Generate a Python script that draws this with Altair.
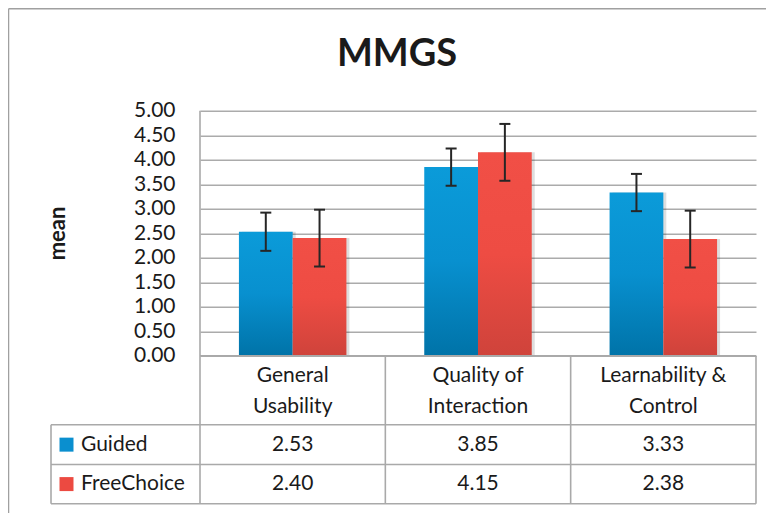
import altair as alt
import pandas as pd

# ---------------- data ----------------
categories = ["General\nUsability", "Quality of\nInteraction", "Learnability &\nControl"]
series_names = ["Guided", "FreeChoice"]
guided_means = [2.53, 3.85, 3.33]
freechoice_means = [2.40, 4.15, 2.38]
guided_err = [0.39, 0.38, 0.38]
freechoice_err = [0.58, 0.58, 0.58]
y_ticks = [0.0, 0.5, 1.0, 1.5, 2.0, 2.5, 3.0, 3.5, 4.0, 4.5, 5.0]
chart_title = "MMGS"
y_title = "mean"

# ---------------- layout (in scale units) ----------------
BAR_W = 0.29
HEADER_BOTTOM = -1.41
ROW_SPLIT = -2.22
TABLE_BOTTOM = -3.02
LABEL_LEFT = -0.804
PLOT_W = 556
PLOT_H = 393
FONT = "Lato"
FS = 21
TXT = "#1a1a1a"
LINE = "#a9a9a9"

row_y = {"Guided": (HEADER_BOTTOM + ROW_SPLIT) / 2, "FreeChoice": (ROW_SPLIT + TABLE_BOTTOM) / 2}

rows = []
for s, means, errs in [("Guided", guided_means, guided_err),
                       ("FreeChoice", freechoice_means, freechoice_err)]:
    for i, (c, m, e) in enumerate(zip(categories, means, errs)):
        left = i + 0.5 - BAR_W if s == "Guided" else i + 0.5
        rows.append(dict(series=s, category=c, mean=m, lo=m - e, hi=m + e,
                         x0=left, x1=left + BAR_W, xc=left + BAR_W / 2,
                         col=i + 0.5, row_y=row_y[s]))
bars = pd.DataFrame(rows)
cats = pd.DataFrame({"category": categories, "col": [i + 0.5 for i in range(len(categories))],
                     "yc": [HEADER_BOTTOM / 2] * len(categories)})
legend_df = pd.DataFrame({"series": series_names, "row_y": [row_y[s] for s in series_names],
                          "xl": [LABEL_LEFT] * len(series_names)})
title_df = pd.DataFrame({"t": [chart_title]})
hlines = pd.DataFrame({"y": [0, HEADER_BOTTOM, ROW_SPLIT, TABLE_BOTTOM],
                       "xa": [0, LABEL_LEFT, LABEL_LEFT, LABEL_LEFT],
                       "xb": [3, 3, 3, 3]})
vlines = pd.DataFrame({"x": [0, LABEL_LEFT, 1, 2, 3],
                       "ya": [5, HEADER_BOTTOM, 0, 0, 0],
                       "yb": [TABLE_BOTTOM] * 5})

xs = alt.Scale(domain=[0, 3], nice=False, zero=False)
ys = alt.Scale(domain=[TABLE_BOTTOM, 5], nice=False, zero=False)

yaxis = alt.Axis(values=y_ticks, format=".2f", grid=True, gridColor="#ababab", gridWidth=1.4,
                 domain=False, ticks=False, tickSize=0, labelPadding=25,
                 labelFont=FONT, labelFontSize=FS, labelColor=TXT,
                 title=y_title, titleFont=FONT, titleFontSize=22, titleFontWeight="bold",
                 titleColor=TXT, titleX=-143, titleY=122.3, titleAngle=270,
                 titleAlign="center", titleBaseline="middle")


def X(f):
    return alt.X(f, scale=xs, axis=None)


def Y(f):
    return alt.Y(f, scale=ys, axis=yaxis)


def grad(c0, c1, c2):
    return alt.Gradient(gradient="linear",
                        stops=[alt.GradientStop(color=c0, offset=0),
                               alt.GradientStop(color=c1, offset=0.5),
                               alt.GradientStop(color=c2, offset=1)],
                        x1=0, x2=0, y1=0, y2=1)


blue = grad("#0b9bd9", "#0890cf", "#0073a8")
red = grad("#f14f46", "#ee4c43", "#cf433b")

base = alt.Chart(bars)

frame_left = alt.Chart(title_df).mark_rule(color="#a0a0a0", strokeWidth=1.5).encode(
    x=alt.value(-191.5), y=alt.value(-102), y2=alt.value(PLOT_H + 20))
frame_top = alt.Chart(title_df).mark_rule(color="#a0a0a0", strokeWidth=1.5).encode(
    x=alt.value(-191.5), x2=alt.value(PLOT_W + 12), y=alt.value(-102))
title = alt.Chart(title_df).mark_text(font=FONT, fontSize=38, fontWeight="bold", color=TXT,
                                      baseline="middle", align="center").encode(
    x=alt.value(197), y=alt.value(-56), text="t:N")

shadow = base.mark_bar(color="#000000", opacity=0.13, xOffset=3, x2Offset=3).encode(
    x=X("x0:Q"), x2="x1:Q", y=Y("mean:Q"), y2=alt.datum(0))

bars_g = base.transform_filter(alt.datum.series == "Guided").mark_bar(color=blue).encode(
    x=X("x0:Q"), x2="x1:Q", y=Y("mean:Q"), y2=alt.datum(0))
bars_f = base.transform_filter(alt.datum.series == "FreeChoice").mark_bar(color=red).encode(
    x=X("x0:Q"), x2="x1:Q", y=Y("mean:Q"), y2=alt.datum(0))

h_rules = alt.Chart(hlines).mark_rule(color=LINE, strokeWidth=1.6).encode(
    x=X("xa:Q"), x2="xb:Q", y=Y("y:Q"))
v_rules = alt.Chart(vlines).mark_rule(color=LINE, strokeWidth=1.6).encode(
    x=X("x:Q"), y=Y("ya:Q"), y2="yb:Q")

err = base.mark_rule(color="#262626", strokeWidth=2).encode(
    x=X("xc:Q"), y=Y("lo:Q"), y2="hi:Q")
caps = base.transform_fold(["lo", "hi"], as_=["end", "val"]).mark_tick(
    orient="horizontal", size=11, thickness=2, color="#262626", opacity=1).encode(
    x=X("xc:Q"), y=Y("val:Q"))

cat_text = alt.Chart(cats).mark_text(font=FONT, fontSize=FS, lineBreak="\n", lineHeight=31,
                                     baseline="middle", dy=-14, color=TXT).encode(
    x=X("col:Q"), y=Y("yc:Q"), text="category:N")

val_text = base.mark_text(font=FONT, fontSize=FS, baseline="middle", color=TXT).encode(
    x=X("col:Q"), y=Y("row_y:Q"), text=alt.Text("mean:Q", format=".2f"))

leg_text = alt.Chart(legend_df).mark_text(font=FONT, fontSize=FS, baseline="middle",
                                          align="left", dx=30, color=TXT).encode(
    x=X("xl:Q"), y=Y("row_y:Q"), text="series:N")
leg_sq = alt.Chart(legend_df).mark_square(size=196, opacity=1, xOffset=15.5).encode(
    x=X("xl:Q"), y=Y("row_y:Q"),
    color=alt.Color("series:N", scale=alt.Scale(domain=series_names,
                                                range=["#0a8fcf", "#ec4a41"]), legend=None))

chart = alt.layer(
    frame_left, frame_top, title, shadow, bars_g, bars_f, h_rules, v_rules, err, caps,
    cat_text, val_text, leg_sq, leg_text
).properties(
    width=PLOT_W, height=PLOT_H,
    autosize=alt.AutoSizeParams(type="none"),
    padding={"left": 192, "top": 102.7, "right": 10, "bottom": 9},
    background="white",
).configure_view(stroke=None)

chart.save("out.html", embed_options={"renderer": "svg", "actions": False})
